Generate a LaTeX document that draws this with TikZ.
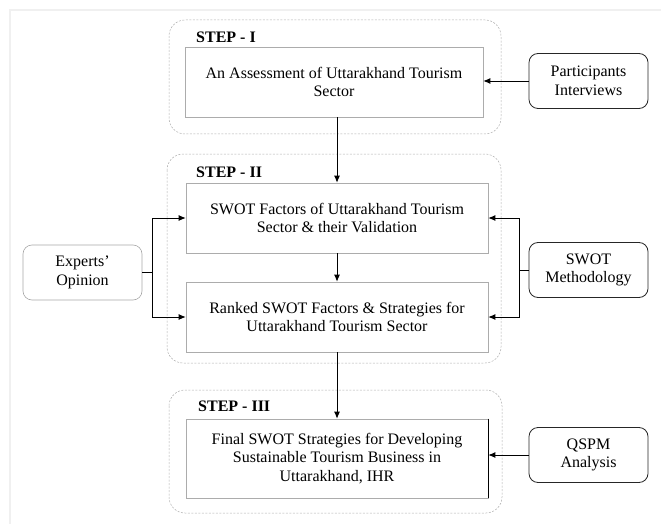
\documentclass[tikz,border=0pt]{standalone}
\usepackage{fontspec}
\setmainfont{Liberation Serif}
\usetikzlibrary{positioning,arrows.meta}

\tikzset{
    grp/.style={draw=gray!65, dash pattern=on 2pt off 1.5pt, rounded corners=16pt, line width=0.5pt},
    stagebox/.style={draw=gray!65, line width=0.6pt, minimum width=302pt, minimum height=70pt, align=center, inner sep=0pt},
    srcbox/.style={draw=black!85, line width=0.8pt, rounded corners=9pt, minimum width=119pt, minimum height=55pt, align=center, inner sep=0pt},
    steptitle/.style={font=\fontsize{16}{18.5}\selectfont\bfseries, anchor=west, inner sep=0pt},
    arr/.style={-{Latex[length=7pt,width=6pt]}, line width=0.9pt},
    every node/.style={font=\fontsize{16}{18.5}\selectfont}
}

\begin{document}
\begin{tikzpicture}[x=1pt,y=1pt]
    \useasboundingbox (0,0) rectangle (661,-524);
    \draw[gray!12, line width=1.5pt] (661,-10)--(10,-10)--(10,-524);
    % step groups
    \draw[grp] (169,-20) rectangle (501,-134);
    \draw[grp] (167,-154) rectangle (501,-363);
    \draw[grp] (169,-390) rectangle (502,-513);
    \node[steptitle] (t1) at (196,-37) {STEP - I};
    \node[steptitle] (t2) at (196,-172) {STEP - II};
    \node[steptitle] (t3) at (198,-406) {STEP - III};
    % stage boxes
    \node[stagebox, minimum width=298pt] (assess) at (334,-82) {An Assessment of Uttarakhand Tourism\\Sector};
    \node[stagebox] (factors) at (337,-218) {SWOT Factors of Uttarakhand Tourism\\Sector \& their Validation};
    \node[stagebox] (ranked) at (337,-317) {Ranked SWOT Factors \& Strategies for\\Uttarakhand Tourism Sector};
    \node[stagebox, minimum height=79pt] (final) at (337,-458.5) {Final SWOT Strategies for Developing\\Sustainable Tourism Business in\\Uttarakhand, IHR};
    \draw[black, line width=0.9pt] (final.north east) -- (final.south east);
    % inputs
    \node[srcbox] (interviews) at (588.5,-81) {Participants\\Interviews};
    \node[srcbox] (method) at (588.5,-270) {SWOT\\Methodology};
    \node[srcbox] (qspm) at (588.5,-455) {QSPM\\Analysis};
    \node[srcbox, draw=gray!70, line width=0.6pt] (experts) at (82.5,-272.5) {Experts'\\Opinion};
    \coordinate (ej) at (152,-272.5);
    \coordinate (mj) at (519,-270);
    % connectors
    \draw[arr] (interviews.west) -- (interviews.west -| assess.east);
    \draw[arr] (assess.south -| factors.north) -- (factors.north);
    \draw[arr] (factors) -- (ranked);
    \draw[arr] (ranked) -- (final);
    \draw[line width=0.9pt] (experts.east) -- (ej);
    \draw[arr] (ej) |- (factors.west);
    \draw[arr] (ej) |- (ranked.west);
    \draw[line width=0.9pt] (method.west) -- (mj);
    \draw[arr] (mj) |- (factors.east);
    \draw[arr] (mj) |- (ranked.east);
    \draw[arr] (qspm.west) -- (qspm.west -| final.east);
\end{tikzpicture}
\end{document}
